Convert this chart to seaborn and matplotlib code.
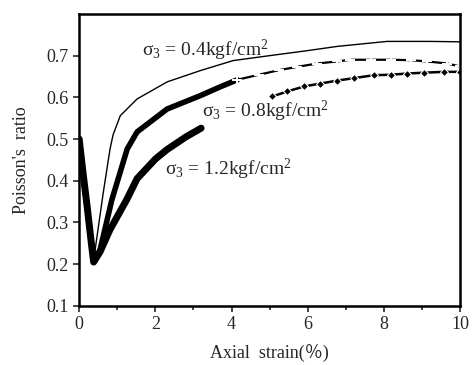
import matplotlib
matplotlib.use("Agg")
import matplotlib.pyplot as plt
import seaborn as sns
import pandas as pd

# sigma3 = 0.4 kgf/cm2 (thin line)
x04 = [0, 0.1, 0.22, 0.32, 0.38, 0.42, 0.63, 0.81, 0.89, 1.08, 1.52, 2.31, 3.18, 4.04, 5.01, 6.0, 6.77, 8.08, 9.2, 10]
y04 = [0.50, 0.42, 0.33, 0.25, 0.205, 0.235, 0.37, 0.476, 0.51, 0.556, 0.596, 0.637, 0.664, 0.688, 0.70, 0.712, 0.722, 0.734, 0.734, 0.733]

# sigma3 = 0.8 kgf/cm2: dense (thick) part, then "+" marked part
x08a = [0, 0.1, 0.22, 0.32, 0.38, 0.55, 0.86, 1.26, 1.52, 2.31, 3.18, 3.7, 4.15]
y08a = [0.50, 0.42, 0.33, 0.25, 0.205, 0.235, 0.355, 0.476, 0.517, 0.572, 0.604, 0.625, 0.642]
x08b = [4.15, 4.71, 5.24, 5.72, 6.25, 6.77, 7.12, 7.65, 8.17, 8.70, 9.13, 9.66, 9.99]
y08b = [0.642, 0.654, 0.665, 0.673, 0.681, 0.686, 0.690, 0.690, 0.690, 0.689, 0.686, 0.681, 0.674]

# sigma3 = 1.2 kgf/cm2: dense (thick) part, then diamond marked part
x12a = [0, 0.1, 0.22, 0.32, 0.38, 0.55, 0.81, 1.25, 1.52, 2.0, 2.31, 2.8, 3.2]
y12a = [0.50, 0.42, 0.33, 0.25, 0.205, 0.23, 0.283, 0.355, 0.405, 0.452, 0.475, 0.505, 0.526]
x12b = [5.07, 5.46, 5.90, 6.33, 6.77, 7.21, 7.73, 8.17, 8.61, 9.05, 9.57, 10.0]
y12b = [0.602, 0.614, 0.626, 0.633, 0.640, 0.646, 0.653, 0.654, 0.657, 0.659, 0.661, 0.661]

labels = [r"$\mathregular{\sigma_3}$ = 0.4kgf/cm$\mathregular{^2}$",
          r"$\mathregular{\sigma_3}$ = 0.8kgf/cm$\mathregular{^2}$",
          r"$\mathregular{\sigma_3}$ = 1.2kgf/cm$\mathregular{^2}$"]
label_x = [1.65, 3.23, 2.26]
label_y = [0.712, 0.567, 0.428]

sns.set_style("ticks")
plt.rcParams['font.family'] = ['Liberation Serif', 'Noto Sans CJK SC', 'DejaVu Serif']
plt.rcParams['mathtext.fontset'] = 'custom'
plt.rcParams['mathtext.rm'] = 'Liberation Serif'

fig = plt.figure(figsize=(4.74, 3.65), dpi=100)
ax = fig.add_axes([0.167, 0.162, 0.804, 0.800])

def seg(x, y):
    return pd.DataFrame({"x": x, "y": y})

sns.lineplot(data=seg(x12a, y12a), x="x", y="y", sort=False, estimator=None,
             color="black", lw=5.0, ax=ax)
sns.lineplot(data=seg(x08a, y08a), x="x", y="y", sort=False, estimator=None,
             color="black", lw=4.0, ax=ax)
sns.lineplot(data=seg(x04, y04), x="x", y="y", sort=False, estimator=None,
             color="black", lw=1.0, ax=ax)
sns.lineplot(data=seg(x08b, y08b), x="x", y="y", sort=False, estimator=None,
             color="black", lw=1.6, marker="+", markersize=7.5, markeredgewidth=1.4, ax=ax)
sns.lineplot(data=seg(x12b, y12b), x="x", y="y", sort=False, estimator=None,
             color="black", lw=1.8, marker="D", markersize=4.5, ax=ax)

for t, lx, ly in zip(labels, label_x, label_y):
    ax.text(lx, ly, t, fontsize=14, va="center", ha="left")

ax.set_xlim(0, 10)
ax.set_ylim(0.1, 0.8)
ax.set_xticks([0, 2, 4, 6, 8, 10])
ax.set_xticks([1, 3, 5, 7, 9], minor=True)
ax.set_yticks([0.1, 0.2, 0.3, 0.4, 0.5, 0.6, 0.7])
ax.set_yticklabels(["0.1", "0.2", "0.3", "0.4", "0.5", "0.6", "0.7"])
ax.tick_params(axis="both", which="major", direction="out", length=4, width=1.2, labelsize=13)
ax.tick_params(axis="x", which="minor", direction="out", length=3, width=1.2)
for s in ax.spines.values():
    s.set_visible(True)
    s.set_linewidth(1.8)
    s.set_color("black")
ax.set_xlabel("Axial  strain(％)", fontsize=13, labelpad=8)
ax.set_ylabel("Poisson's  ratio", fontsize=13, labelpad=12)

fig.savefig("out.png", dpi=100)
